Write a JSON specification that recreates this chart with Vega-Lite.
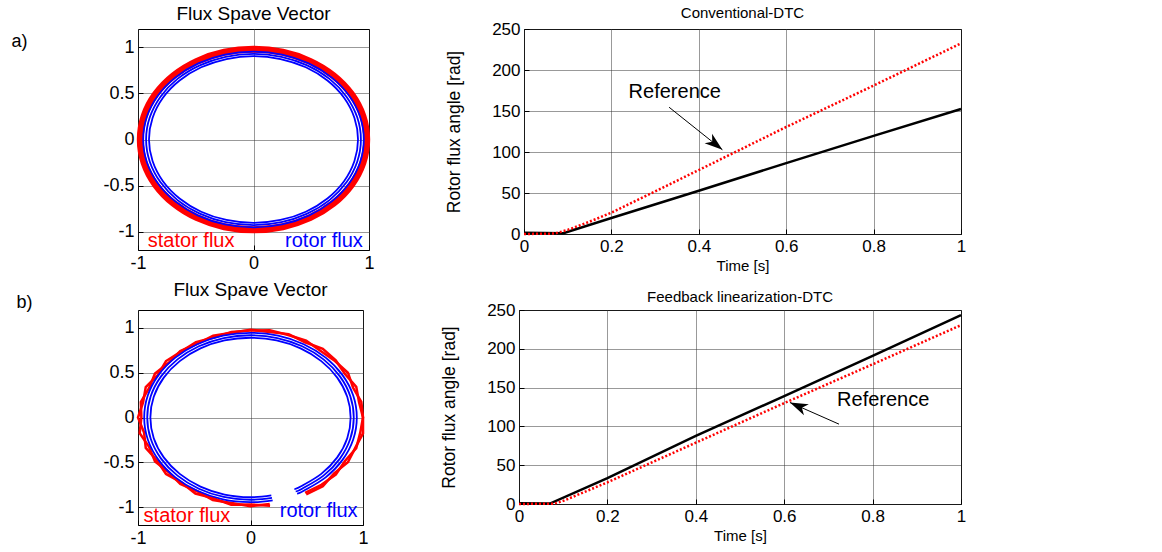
{
"$schema": "https://vega.github.io/schema/vega-lite/v6.json",
"padding": {"left": 10, "top": 4, "right": 4, "bottom": 0},
"background": "white",
"config": {
 "font": "Liberation Sans",
 "view": {"stroke": "black", "strokeWidth": 1},
 "title": {"fontWeight": "normal", "color": "black", "offset": 5, "font": "Liberation Sans"},
 "axis": {"domain": false, "labelColor": "black", "titleColor": "black", "titleFontWeight": "normal", "tickColor": "black", "tickSize": -5, "labelPadding": 9, "gridColor": "#333", "gridDash": [1, 1], "gridWidth": 1, "labelFont": "Liberation Sans", "titleFont": "Liberation Sans", "labelFlush": false, "labelOverlap": false}
},
"datasets": {
 "flux": [
  {"p":"a","g":"as","s":"stator","o":0,"x":0.98,"y":0},
  {"p":"a","g":"as","s":"stator","o":1,"x":0.947,"y":0.254},
  {"p":"a","g":"as","s":"stator","o":2,"x":0.849,"y":0.49},
  {"p":"a","g":"as","s":"stator","o":3,"x":0.693,"y":0.693},
  {"p":"a","g":"as","s":"stator","o":4,"x":0.49,"y":0.849},
  {"p":"a","g":"as","s":"stator","o":5,"x":0.254,"y":0.947},
  {"p":"a","g":"as","s":"stator","o":6,"x":0,"y":0.98},
  {"p":"a","g":"as","s":"stator","o":7,"x":-0.254,"y":0.947},
  {"p":"a","g":"as","s":"stator","o":8,"x":-0.49,"y":0.849},
  {"p":"a","g":"as","s":"stator","o":9,"x":-0.693,"y":0.693},
  {"p":"a","g":"as","s":"stator","o":10,"x":-0.849,"y":0.49},
  {"p":"a","g":"as","s":"stator","o":11,"x":-0.947,"y":0.254},
  {"p":"a","g":"as","s":"stator","o":12,"x":-0.98,"y":0},
  {"p":"a","g":"as","s":"stator","o":13,"x":-0.947,"y":-0.254},
  {"p":"a","g":"as","s":"stator","o":14,"x":-0.849,"y":-0.49},
  {"p":"a","g":"as","s":"stator","o":15,"x":-0.693,"y":-0.693},
  {"p":"a","g":"as","s":"stator","o":16,"x":-0.49,"y":-0.849},
  {"p":"a","g":"as","s":"stator","o":17,"x":-0.254,"y":-0.947},
  {"p":"a","g":"as","s":"stator","o":18,"x":0,"y":-0.98},
  {"p":"a","g":"as","s":"stator","o":19,"x":0.254,"y":-0.947},
  {"p":"a","g":"as","s":"stator","o":20,"x":0.49,"y":-0.849},
  {"p":"a","g":"as","s":"stator","o":21,"x":0.693,"y":-0.693},
  {"p":"a","g":"as","s":"stator","o":22,"x":0.849,"y":-0.49},
  {"p":"a","g":"as","s":"stator","o":23,"x":0.947,"y":-0.254},

  {"p":"a","g":"ar1","s":"rotor","o":0,"x":0.955,"y":0},
  {"p":"a","g":"ar1","s":"rotor","o":1,"x":0.923,"y":0.247},
  {"p":"a","g":"ar1","s":"rotor","o":2,"x":0.827,"y":0.478},
  {"p":"a","g":"ar1","s":"rotor","o":3,"x":0.675,"y":0.675},
  {"p":"a","g":"ar1","s":"rotor","o":4,"x":0.478,"y":0.827},
  {"p":"a","g":"ar1","s":"rotor","o":5,"x":0.247,"y":0.923},
  {"p":"a","g":"ar1","s":"rotor","o":6,"x":0,"y":0.955},
  {"p":"a","g":"ar1","s":"rotor","o":7,"x":-0.247,"y":0.923},
  {"p":"a","g":"ar1","s":"rotor","o":8,"x":-0.478,"y":0.827},
  {"p":"a","g":"ar1","s":"rotor","o":9,"x":-0.675,"y":0.675},
  {"p":"a","g":"ar1","s":"rotor","o":10,"x":-0.827,"y":0.478},
  {"p":"a","g":"ar1","s":"rotor","o":11,"x":-0.923,"y":0.247},
  {"p":"a","g":"ar1","s":"rotor","o":12,"x":-0.955,"y":0},
  {"p":"a","g":"ar1","s":"rotor","o":13,"x":-0.923,"y":-0.247},
  {"p":"a","g":"ar1","s":"rotor","o":14,"x":-0.827,"y":-0.478},
  {"p":"a","g":"ar1","s":"rotor","o":15,"x":-0.675,"y":-0.675},
  {"p":"a","g":"ar1","s":"rotor","o":16,"x":-0.478,"y":-0.827},
  {"p":"a","g":"ar1","s":"rotor","o":17,"x":-0.247,"y":-0.923},
  {"p":"a","g":"ar1","s":"rotor","o":18,"x":0,"y":-0.955},
  {"p":"a","g":"ar1","s":"rotor","o":19,"x":0.247,"y":-0.923},
  {"p":"a","g":"ar1","s":"rotor","o":20,"x":0.478,"y":-0.827},
  {"p":"a","g":"ar1","s":"rotor","o":21,"x":0.675,"y":-0.675},
  {"p":"a","g":"ar1","s":"rotor","o":22,"x":0.827,"y":-0.478},
  {"p":"a","g":"ar1","s":"rotor","o":23,"x":0.923,"y":-0.247},

  {"p":"a","g":"ar2","s":"rotor","o":0,"x":0.93,"y":0},
  {"p":"a","g":"ar2","s":"rotor","o":1,"x":0.898,"y":0.241},
  {"p":"a","g":"ar2","s":"rotor","o":2,"x":0.805,"y":0.465},
  {"p":"a","g":"ar2","s":"rotor","o":3,"x":0.658,"y":0.658},
  {"p":"a","g":"ar2","s":"rotor","o":4,"x":0.465,"y":0.805},
  {"p":"a","g":"ar2","s":"rotor","o":5,"x":0.241,"y":0.898},
  {"p":"a","g":"ar2","s":"rotor","o":6,"x":0,"y":0.93},
  {"p":"a","g":"ar2","s":"rotor","o":7,"x":-0.241,"y":0.898},
  {"p":"a","g":"ar2","s":"rotor","o":8,"x":-0.465,"y":0.805},
  {"p":"a","g":"ar2","s":"rotor","o":9,"x":-0.658,"y":0.658},
  {"p":"a","g":"ar2","s":"rotor","o":10,"x":-0.805,"y":0.465},
  {"p":"a","g":"ar2","s":"rotor","o":11,"x":-0.898,"y":0.241},
  {"p":"a","g":"ar2","s":"rotor","o":12,"x":-0.93,"y":0},
  {"p":"a","g":"ar2","s":"rotor","o":13,"x":-0.898,"y":-0.241},
  {"p":"a","g":"ar2","s":"rotor","o":14,"x":-0.805,"y":-0.465},
  {"p":"a","g":"ar2","s":"rotor","o":15,"x":-0.658,"y":-0.658},
  {"p":"a","g":"ar2","s":"rotor","o":16,"x":-0.465,"y":-0.805},
  {"p":"a","g":"ar2","s":"rotor","o":17,"x":-0.241,"y":-0.898},
  {"p":"a","g":"ar2","s":"rotor","o":18,"x":0,"y":-0.93},
  {"p":"a","g":"ar2","s":"rotor","o":19,"x":0.241,"y":-0.898},
  {"p":"a","g":"ar2","s":"rotor","o":20,"x":0.465,"y":-0.805},
  {"p":"a","g":"ar2","s":"rotor","o":21,"x":0.658,"y":-0.658},
  {"p":"a","g":"ar2","s":"rotor","o":22,"x":0.805,"y":-0.465},
  {"p":"a","g":"ar2","s":"rotor","o":23,"x":0.898,"y":-0.241},

  {"p":"a","g":"ar3","s":"rotor","o":0,"x":0.905,"y":0},
  {"p":"a","g":"ar3","s":"rotor","o":1,"x":0.874,"y":0.234},
  {"p":"a","g":"ar3","s":"rotor","o":2,"x":0.784,"y":0.453},
  {"p":"a","g":"ar3","s":"rotor","o":3,"x":0.64,"y":0.64},
  {"p":"a","g":"ar3","s":"rotor","o":4,"x":0.453,"y":0.784},
  {"p":"a","g":"ar3","s":"rotor","o":5,"x":0.234,"y":0.874},
  {"p":"a","g":"ar3","s":"rotor","o":6,"x":0,"y":0.905},
  {"p":"a","g":"ar3","s":"rotor","o":7,"x":-0.234,"y":0.874},
  {"p":"a","g":"ar3","s":"rotor","o":8,"x":-0.453,"y":0.784},
  {"p":"a","g":"ar3","s":"rotor","o":9,"x":-0.64,"y":0.64},
  {"p":"a","g":"ar3","s":"rotor","o":10,"x":-0.784,"y":0.453},
  {"p":"a","g":"ar3","s":"rotor","o":11,"x":-0.874,"y":0.234},
  {"p":"a","g":"ar3","s":"rotor","o":12,"x":-0.905,"y":0},
  {"p":"a","g":"ar3","s":"rotor","o":13,"x":-0.874,"y":-0.234},
  {"p":"a","g":"ar3","s":"rotor","o":14,"x":-0.784,"y":-0.453},
  {"p":"a","g":"ar3","s":"rotor","o":15,"x":-0.64,"y":-0.64},
  {"p":"a","g":"ar3","s":"rotor","o":16,"x":-0.453,"y":-0.784},
  {"p":"a","g":"ar3","s":"rotor","o":17,"x":-0.234,"y":-0.874},
  {"p":"a","g":"ar3","s":"rotor","o":18,"x":0,"y":-0.905},
  {"p":"a","g":"ar3","s":"rotor","o":19,"x":0.234,"y":-0.874},
  {"p":"a","g":"ar3","s":"rotor","o":20,"x":0.453,"y":-0.784},
  {"p":"a","g":"ar3","s":"rotor","o":21,"x":0.64,"y":-0.64},
  {"p":"a","g":"ar3","s":"rotor","o":22,"x":0.784,"y":-0.453},
  {"p":"a","g":"ar3","s":"rotor","o":23,"x":0.874,"y":-0.234},

  {"p":"b","g":"bs1","s":"stator","o":0,"x":0.495,"y":-0.857},
  {"p":"b","g":"bs1","s":"stator","o":1,"x":0.643,"y":-0.766},
  {"p":"b","g":"bs1","s":"stator","o":2,"x":0.743,"y":-0.624},
  {"p":"b","g":"bs1","s":"stator","o":3,"x":0.866,"y":-0.5},
  {"p":"b","g":"bs1","s":"stator","o":4,"x":0.931,"y":-0.339},
  {"p":"b","g":"bs1","s":"stator","o":5,"x":1.0,"y":-0.177},
  {"p":"b","g":"bs1","s":"stator","o":6,"x":1.0,"y":0},
  {"p":"b","g":"bs1","s":"stator","o":7,"x":0.965,"y":0.171},
  {"p":"b","g":"bs1","s":"stator","o":8,"x":0.94,"y":0.342},
  {"p":"b","g":"bs1","s":"stator","o":9,"x":0.84,"y":0.485},
  {"p":"b","g":"bs1","s":"stator","o":10,"x":0.758,"y":0.637},
  {"p":"b","g":"bs1","s":"stator","o":11,"x":0.643,"y":0.766},
  {"p":"b","g":"bs1","s":"stator","o":12,"x":0.485,"y":0.84},
  {"p":"b","g":"bs1","s":"stator","o":13,"x":0.339,"y":0.931},
  {"p":"b","g":"bs1","s":"stator","o":14,"x":0.169,"y":0.955},
  {"p":"b","g":"bs1","s":"stator","o":15,"x":0,"y":0.98},
  {"p":"b","g":"bs1","s":"stator","o":16,"x":-0.167,"y":0.946},
  {"p":"b","g":"bs1","s":"stator","o":17,"x":-0.332,"y":0.912},
  {"p":"b","g":"bs1","s":"stator","o":18,"x":-0.475,"y":0.823},
  {"p":"b","g":"bs1","s":"stator","o":19,"x":-0.624,"y":0.743},
  {"p":"b","g":"bs1","s":"stator","o":20,"x":-0.728,"y":0.611},
  {"p":"b","g":"bs1","s":"stator","o":21,"x":-0.849,"y":0.49},
  {"p":"b","g":"bs1","s":"stator","o":22,"x":-0.902,"y":0.328},
  {"p":"b","g":"bs1","s":"stator","o":23,"x":-0.975,"y":0.172},
  {"p":"b","g":"bs1","s":"stator","o":24,"x":-0.97,"y":0},
  {"p":"b","g":"bs1","s":"stator","o":25,"x":-0.985,"y":-0.174},
  {"p":"b","g":"bs1","s":"stator","o":26,"x":-0.902,"y":-0.328},
  {"p":"b","g":"bs1","s":"stator","o":27,"x":-0.849,"y":-0.49},
  {"p":"b","g":"bs1","s":"stator","o":28,"x":-0.728,"y":-0.611},
  {"p":"b","g":"bs1","s":"stator","o":29,"x":-0.624,"y":-0.743},
  {"p":"b","g":"bs1","s":"stator","o":30,"x":-0.475,"y":-0.823},
  {"p":"b","g":"bs1","s":"stator","o":31,"x":-0.335,"y":-0.921},
  {"p":"b","g":"bs1","s":"stator","o":32,"x":-0.169,"y":-0.955},
  {"p":"b","g":"bs1","s":"stator","o":33,"x":0,"y":-0.99},
  {"p":"b","g":"bs1","s":"stator","o":34,"x":0.171,"y":-0.965},

  {"p":"b","g":"bs2","s":"stator","o":0,"x":0.485,"y":-0.84},
  {"p":"b","g":"bs2","s":"stator","o":1,"x":0.63,"y":-0.751},
  {"p":"b","g":"bs2","s":"stator","o":2,"x":0.758,"y":-0.637},
  {"p":"b","g":"bs2","s":"stator","o":3,"x":0.84,"y":-0.485},
  {"p":"b","g":"bs2","s":"stator","o":4,"x":0.94,"y":-0.342},
  {"p":"b","g":"bs2","s":"stator","o":5,"x":0.975,"y":-0.172},
  {"p":"b","g":"bs2","s":"stator","o":6,"x":1.0,"y":0},
  {"p":"b","g":"bs2","s":"stator","o":7,"x":0.985,"y":0.174},
  {"p":"b","g":"bs2","s":"stator","o":8,"x":0.912,"y":0.332},
  {"p":"b","g":"bs2","s":"stator","o":9,"x":0.866,"y":0.5},
  {"p":"b","g":"bs2","s":"stator","o":10,"x":0.751,"y":0.63},
  {"p":"b","g":"bs2","s":"stator","o":11,"x":0.624,"y":0.743},
  {"p":"b","g":"bs2","s":"stator","o":12,"x":0.495,"y":0.857},
  {"p":"b","g":"bs2","s":"stator","o":13,"x":0.335,"y":0.921},
  {"p":"b","g":"bs2","s":"stator","o":14,"x":0.172,"y":0.975},
  {"p":"b","g":"bs2","s":"stator","o":15,"x":0,"y":0.97},
  {"p":"b","g":"bs2","s":"stator","o":16,"x":-0.169,"y":0.955},
  {"p":"b","g":"bs2","s":"stator","o":17,"x":-0.325,"y":0.893},
  {"p":"b","g":"bs2","s":"stator","o":18,"x":-0.485,"y":0.84},
  {"p":"b","g":"bs2","s":"stator","o":19,"x":-0.617,"y":0.735},
  {"p":"b","g":"bs2","s":"stator","o":20,"x":-0.751,"y":0.63},
  {"p":"b","g":"bs2","s":"stator","o":21,"x":-0.823,"y":0.475},
  {"p":"b","g":"bs2","s":"stator","o":22,"x":-0.931,"y":0.339},
  {"p":"b","g":"bs2","s":"stator","o":23,"x":-0.955,"y":0.169},
  {"p":"b","g":"bs2","s":"stator","o":24,"x":-1.0,"y":0},
  {"p":"b","g":"bs2","s":"stator","o":25,"x":-0.946,"y":-0.167},
  {"p":"b","g":"bs2","s":"stator","o":26,"x":-0.931,"y":-0.339},
  {"p":"b","g":"bs2","s":"stator","o":27,"x":-0.831,"y":-0.48},
  {"p":"b","g":"bs2","s":"stator","o":28,"x":-0.751,"y":-0.63},
  {"p":"b","g":"bs2","s":"stator","o":29,"x":-0.611,"y":-0.728},
  {"p":"b","g":"bs2","s":"stator","o":30,"x":-0.49,"y":-0.849},
  {"p":"b","g":"bs2","s":"stator","o":31,"x":-0.328,"y":-0.902},
  {"p":"b","g":"bs2","s":"stator","o":32,"x":-0.172,"y":-0.975},
  {"p":"b","g":"bs2","s":"stator","o":33,"x":0,"y":-0.97},
  {"p":"b","g":"bs2","s":"stator","o":34,"x":0.174,"y":-0.985},

  {"p":"b","g":"br1","s":"rotor","o":0,"x":0.414,"y":-0.85},
  {"p":"b","g":"br1","s":"rotor","o":1,"x":0.473,"y":-0.818},
  {"p":"b","g":"br1","s":"rotor","o":2,"x":0.668,"y":-0.668},
  {"p":"b","g":"br1","s":"rotor","o":3,"x":0.818,"y":-0.473},
  {"p":"b","g":"br1","s":"rotor","o":4,"x":0.913,"y":-0.245},
  {"p":"b","g":"br1","s":"rotor","o":5,"x":0.945,"y":0},
  {"p":"b","g":"br1","s":"rotor","o":6,"x":0.913,"y":0.245},
  {"p":"b","g":"br1","s":"rotor","o":7,"x":0.818,"y":0.473},
  {"p":"b","g":"br1","s":"rotor","o":8,"x":0.668,"y":0.668},
  {"p":"b","g":"br1","s":"rotor","o":9,"x":0.473,"y":0.818},
  {"p":"b","g":"br1","s":"rotor","o":10,"x":0.245,"y":0.913},
  {"p":"b","g":"br1","s":"rotor","o":11,"x":0,"y":0.945},
  {"p":"b","g":"br1","s":"rotor","o":12,"x":-0.245,"y":0.913},
  {"p":"b","g":"br1","s":"rotor","o":13,"x":-0.473,"y":0.818},
  {"p":"b","g":"br1","s":"rotor","o":14,"x":-0.668,"y":0.668},
  {"p":"b","g":"br1","s":"rotor","o":15,"x":-0.818,"y":0.473},
  {"p":"b","g":"br1","s":"rotor","o":16,"x":-0.913,"y":0.245},
  {"p":"b","g":"br1","s":"rotor","o":17,"x":-0.945,"y":0},
  {"p":"b","g":"br1","s":"rotor","o":18,"x":-0.913,"y":-0.245},
  {"p":"b","g":"br1","s":"rotor","o":19,"x":-0.818,"y":-0.473},
  {"p":"b","g":"br1","s":"rotor","o":20,"x":-0.668,"y":-0.668},
  {"p":"b","g":"br1","s":"rotor","o":21,"x":-0.473,"y":-0.818},
  {"p":"b","g":"br1","s":"rotor","o":22,"x":-0.245,"y":-0.913},
  {"p":"b","g":"br1","s":"rotor","o":23,"x":0,"y":-0.945},
  {"p":"b","g":"br1","s":"rotor","o":24,"x":0.197,"y":-0.924},

  {"p":"b","g":"br2","s":"rotor","o":0,"x":0.402,"y":-0.825},
  {"p":"b","g":"br2","s":"rotor","o":1,"x":0.459,"y":-0.795},
  {"p":"b","g":"br2","s":"rotor","o":2,"x":0.649,"y":-0.649},
  {"p":"b","g":"br2","s":"rotor","o":3,"x":0.795,"y":-0.459},
  {"p":"b","g":"br2","s":"rotor","o":4,"x":0.887,"y":-0.238},
  {"p":"b","g":"br2","s":"rotor","o":5,"x":0.918,"y":0},
  {"p":"b","g":"br2","s":"rotor","o":6,"x":0.887,"y":0.238},
  {"p":"b","g":"br2","s":"rotor","o":7,"x":0.795,"y":0.459},
  {"p":"b","g":"br2","s":"rotor","o":8,"x":0.649,"y":0.649},
  {"p":"b","g":"br2","s":"rotor","o":9,"x":0.459,"y":0.795},
  {"p":"b","g":"br2","s":"rotor","o":10,"x":0.238,"y":0.887},
  {"p":"b","g":"br2","s":"rotor","o":11,"x":0,"y":0.918},
  {"p":"b","g":"br2","s":"rotor","o":12,"x":-0.238,"y":0.887},
  {"p":"b","g":"br2","s":"rotor","o":13,"x":-0.459,"y":0.795},
  {"p":"b","g":"br2","s":"rotor","o":14,"x":-0.649,"y":0.649},
  {"p":"b","g":"br2","s":"rotor","o":15,"x":-0.795,"y":0.459},
  {"p":"b","g":"br2","s":"rotor","o":16,"x":-0.887,"y":0.238},
  {"p":"b","g":"br2","s":"rotor","o":17,"x":-0.918,"y":0},
  {"p":"b","g":"br2","s":"rotor","o":18,"x":-0.887,"y":-0.238},
  {"p":"b","g":"br2","s":"rotor","o":19,"x":-0.795,"y":-0.459},
  {"p":"b","g":"br2","s":"rotor","o":20,"x":-0.649,"y":-0.649},
  {"p":"b","g":"br2","s":"rotor","o":21,"x":-0.459,"y":-0.795},
  {"p":"b","g":"br2","s":"rotor","o":22,"x":-0.238,"y":-0.887},
  {"p":"b","g":"br2","s":"rotor","o":23,"x":0,"y":-0.918},
  {"p":"b","g":"br2","s":"rotor","o":24,"x":0.191,"y":-0.898},

  {"p":"b","g":"br3","s":"rotor","o":0,"x":0.39,"y":-0.8},
  {"p":"b","g":"br3","s":"rotor","o":1,"x":0.445,"y":-0.771},
  {"p":"b","g":"br3","s":"rotor","o":2,"x":0.629,"y":-0.629},
  {"p":"b","g":"br3","s":"rotor","o":3,"x":0.771,"y":-0.445},
  {"p":"b","g":"br3","s":"rotor","o":4,"x":0.86,"y":-0.231},
  {"p":"b","g":"br3","s":"rotor","o":5,"x":0.89,"y":0},
  {"p":"b","g":"br3","s":"rotor","o":6,"x":0.86,"y":0.231},
  {"p":"b","g":"br3","s":"rotor","o":7,"x":0.771,"y":0.445},
  {"p":"b","g":"br3","s":"rotor","o":8,"x":0.629,"y":0.629},
  {"p":"b","g":"br3","s":"rotor","o":9,"x":0.445,"y":0.771},
  {"p":"b","g":"br3","s":"rotor","o":10,"x":0.231,"y":0.86},
  {"p":"b","g":"br3","s":"rotor","o":11,"x":0,"y":0.89},
  {"p":"b","g":"br3","s":"rotor","o":12,"x":-0.231,"y":0.86},
  {"p":"b","g":"br3","s":"rotor","o":13,"x":-0.445,"y":0.771},
  {"p":"b","g":"br3","s":"rotor","o":14,"x":-0.629,"y":0.629},
  {"p":"b","g":"br3","s":"rotor","o":15,"x":-0.771,"y":0.445},
  {"p":"b","g":"br3","s":"rotor","o":16,"x":-0.86,"y":0.231},
  {"p":"b","g":"br3","s":"rotor","o":17,"x":-0.89,"y":0},
  {"p":"b","g":"br3","s":"rotor","o":18,"x":-0.86,"y":-0.231},
  {"p":"b","g":"br3","s":"rotor","o":19,"x":-0.771,"y":-0.445},
  {"p":"b","g":"br3","s":"rotor","o":20,"x":-0.629,"y":-0.629},
  {"p":"b","g":"br3","s":"rotor","o":21,"x":-0.445,"y":-0.771},
  {"p":"b","g":"br3","s":"rotor","o":22,"x":-0.231,"y":-0.86},
  {"p":"b","g":"br3","s":"rotor","o":23,"x":0,"y":-0.89},
  {"p":"b","g":"br3","s":"rotor","o":24,"x":0.185,"y":-0.87}
 ],
 "flabels": [
  {"p":"a","s":"stator","txt":"stator flux","x":-0.54,"y":-1.107},
  {"p":"a","s":"rotor","txt":"rotor flux","x":0.61,"y":-1.107},
  {"p":"b","s":"stator","txt":"stator flux","x":-0.565,"y":-1.1},
  {"p":"b","s":"rotor","txt":"rotor flux","x":0.606,"y":-1.04}
 ],
 "ang": [
  {"p":"a","s":"actual","x":0,"y":1.5},
  {"p":"a","s":"actual","x":0.09,"y":1},
  {"p":"a","s":"actual","x":0.2,"y":19.5},
  {"p":"a","s":"actual","x":0.4,"y":52.8},
  {"p":"a","s":"actual","x":0.6,"y":86.4},
  {"p":"a","s":"actual","x":0.8,"y":119.7},
  {"p":"a","s":"actual","x":1,"y":152.5},
  {"p":"a","s":"ref","x":0,"y":0},
  {"p":"a","s":"ref","x":0.07,"y":0.5},
  {"p":"a","s":"ref","x":0.1,"y":5},
  {"p":"a","s":"ref","x":0.15,"y":15},
  {"p":"a","s":"ref","x":0.2,"y":26},
  {"p":"a","s":"ref","x":0.4,"y":78},
  {"p":"a","s":"ref","x":0.6,"y":130.5},
  {"p":"a","s":"ref","x":0.8,"y":181},
  {"p":"a","s":"ref","x":1,"y":232.5},
  {"p":"b","s":"actual","x":0,"y":1},
  {"p":"b","s":"actual","x":0.07,"y":0.5},
  {"p":"b","s":"actual","x":0.2,"y":33.4},
  {"p":"b","s":"actual","x":0.4,"y":87.9},
  {"p":"b","s":"actual","x":0.6,"y":139},
  {"p":"b","s":"actual","x":0.8,"y":190.8},
  {"p":"b","s":"actual","x":1,"y":243.5},
  {"p":"b","s":"ref","x":0,"y":0},
  {"p":"b","s":"ref","x":0.08,"y":0.5},
  {"p":"b","s":"ref","x":0.1,"y":4},
  {"p":"b","s":"ref","x":0.2,"y":27.9},
  {"p":"b","s":"ref","x":0.4,"y":79},
  {"p":"b","s":"ref","x":0.6,"y":130},
  {"p":"b","s":"ref","x":0.8,"y":180},
  {"p":"b","s":"ref","x":1,"y":230.5}
 ],
 "arrows": [
  {"p":"a","x":0.454,"y":102.7,"x2":0.332,"y2":154.6},
  {"p":"b","x":0.613,"y":130.8,"x2":0.724,"y2":102.9}
 ],
 "labels": [
  {"p":"a","txt":"Reference","x":0.345,"y":173},
  {"p":"b","txt":"Reference","x":0.824,"y":134}
 ]
},
"vconcat": [
 {
  "hconcat": [
   {
    "width": 231, "height": 221,
    "title": {"text": "Flux Spave Vector", "fontSize": 19},
    "encoding": {
     "x": {"field": "x", "type": "quantitative", "scale": {"domain": [-1, 1], "nice": false, "zero": false}, "axis": {"values": [-1, 0, 1], "title": null, "labelFontSize": 18, "labelExpr": "'' + datum.value"}},
     "y": {"field": "y", "type": "quantitative", "scale": {"domain": [-1.2, 1.2], "nice": false, "zero": false}, "axis": {"values": [-1, -0.5, 0, 0.5, 1], "labelFontSize": 18, "labelExpr": "'' + datum.value", "title": "a)", "titleAngle": 0, "titleX": -127, "titleY": 12, "titleAlign": "left", "titleBaseline": "middle", "titleFontSize": 18}},
     "color": {"field": "s", "type": "nominal", "scale": {"domain": ["stator", "rotor"], "range": ["#ff0000", "#0000ff"]}, "legend": null}
    },
    "layer": [
     {"data": {"name": "flux"}, "transform": [{"filter": "datum.g == 'as'"}], "mark": {"type": "line", "interpolate": "cardinal-closed", "strokeWidth": 7}, "encoding": {"detail": {"field": "g"}, "order": {"field": "o", "type": "quantitative"}}},
     {"data": {"name": "flux"}, "transform": [{"filter": "datum.p == 'a' && datum.s == 'rotor'"}], "mark": {"type": "line", "interpolate": "cardinal-closed", "strokeWidth": 1.8}, "encoding": {"detail": {"field": "g"}, "order": {"field": "o", "type": "quantitative"}}},
     {"data": {"name": "flabels"}, "transform": [{"filter": "datum.p == 'a'"}], "mark": {"type": "text", "fontSize": 20}, "encoding": {"text": {"field": "txt"}}}
    ]
   },
   {
    "width": 437, "height": 205,
    "title": {"text": "Conventional-DTC", "fontSize": 15, "offset": -1},
    "encoding": {
     "x": {"field": "x", "type": "quantitative", "scale": {"domain": [0, 1], "nice": false, "zero": false}, "axis": {"values": [0, 0.2, 0.4, 0.6, 0.8, 1], "title": "Time [s]", "titleFontSize": 15, "titlePadding": 4, "labelFontSize": 17, "labelExpr": "'' + datum.value"}},
     "y": {"field": "y", "type": "quantitative", "scale": {"domain": [0, 250], "nice": false, "zero": false}, "axis": {"values": [0, 50, 100, 150, 200, 250], "title": "Rotor flux angle [rad]", "titleFontSize": 17.5, "titlePadding": 28, "labelFontSize": 17}}
    },
    "layer": [
     {"data": {"name": "ang"}, "transform": [{"filter": "datum.p == 'a' && datum.s == 'actual'"}], "mark": {"type": "line", "color": "black", "strokeWidth": 2.5}},
     {"data": {"name": "ang"}, "transform": [{"filter": "datum.p == 'a' && datum.s == 'ref'"}], "mark": {"type": "line", "color": "#ff0000", "strokeWidth": 2.5, "strokeDash": [2, 2]}},
     {"data": {"name": "arrows"}, "transform": [{"filter": "datum.p == 'a'"}], "mark": {"type": "rule", "color": "black", "strokeWidth": 1}, "encoding": {"x2": {"field": "x2"}, "y2": {"field": "y2"}}},
     {"data": {"name": "arrows"}, "transform": [{"filter": "datum.p == 'a'"}], "mark": {"type": "point", "shape": "M0,0L0.6,1.8L0,1.3L-0.6,1.8Z", "filled": true, "color": "black", "opacity": 1, "size": 400, "angle": 128.6}},
     {"data": {"name": "labels"}, "transform": [{"filter": "datum.p == 'a'"}], "mark": {"type": "text", "fontSize": 20, "color": "black"}, "encoding": {"text": {"field": "txt"}}}
    ]
   }
  ],
  "spacing": 63
 },
 {
  "hconcat": [
   {
    "width": 225, "height": 215,
    "title": {"text": "Flux Spave Vector", "fontSize": 19, "offset": -7},
    "encoding": {
     "x": {"field": "x", "type": "quantitative", "scale": {"domain": [-1, 1], "nice": false, "zero": false}, "axis": {"values": [-1, 0, 1], "title": null, "labelFontSize": 18, "labelExpr": "'' + datum.value"}},
     "y": {"field": "y", "type": "quantitative", "scale": {"domain": [-1.2, 1.2], "nice": false, "zero": false}, "axis": {"values": [-1, -0.5, 0, 0.5, 1], "labelFontSize": 18, "labelExpr": "'' + datum.value", "title": "b)", "titleAngle": 0, "titleX": -122, "titleY": -8, "titleAlign": "left", "titleBaseline": "middle", "titleFontSize": 18}},
     "color": {"field": "s", "type": "nominal", "scale": {"domain": ["stator", "rotor"], "range": ["#ff0000", "#0000ff"]}, "legend": null}
    },
    "layer": [
     {"data": {"name": "flux"}, "transform": [{"filter": "datum.p == 'b' && datum.s == 'stator'"}], "mark": {"type": "line", "interpolate": "linear", "strokeWidth": 2.5}, "encoding": {"detail": {"field": "g"}, "order": {"field": "o", "type": "quantitative"}}},
     {"data": {"name": "flux"}, "transform": [{"filter": "datum.p == 'b' && datum.s == 'rotor'"}], "mark": {"type": "line", "interpolate": "cardinal", "strokeWidth": 1.8}, "encoding": {"detail": {"field": "g"}, "order": {"field": "o", "type": "quantitative"}}},
     {"data": {"name": "flabels"}, "transform": [{"filter": "datum.p == 'b'"}], "mark": {"type": "text", "fontSize": 20}, "encoding": {"text": {"field": "txt"}}}
    ]
   },
   {
    "width": 442, "height": 194,
    "title": {"text": "Feedback linearization-DTC", "fontSize": 15, "offset": -4},
    "encoding": {
     "x": {"field": "x", "type": "quantitative", "scale": {"domain": [0, 1], "nice": false, "zero": false}, "axis": {"values": [0, 0.2, 0.4, 0.6, 0.8, 1], "title": "Time [s]", "titleFontSize": 15, "titlePadding": 4, "labelFontSize": 17, "labelExpr": "'' + datum.value"}},
     "y": {"field": "y", "type": "quantitative", "scale": {"domain": [0, 250], "nice": false, "zero": false}, "axis": {"values": [0, 50, 100, 150, 200, 250], "title": "Rotor flux angle [rad]", "titleFontSize": 17.5, "titlePadding": 28, "labelFontSize": 17}}
    },
    "layer": [
     {"data": {"name": "ang"}, "transform": [{"filter": "datum.p == 'b' && datum.s == 'actual'"}], "mark": {"type": "line", "color": "black", "strokeWidth": 2.5}},
     {"data": {"name": "ang"}, "transform": [{"filter": "datum.p == 'b' && datum.s == 'ref'"}], "mark": {"type": "line", "color": "#ff0000", "strokeWidth": 2.5, "strokeDash": [2, 2]}},
     {"data": {"name": "arrows"}, "transform": [{"filter": "datum.p == 'b'"}], "mark": {"type": "rule", "color": "black", "strokeWidth": 1}, "encoding": {"x2": {"field": "x2"}, "y2": {"field": "y2"}}},
     {"data": {"name": "arrows"}, "transform": [{"filter": "datum.p == 'b'"}], "mark": {"type": "point", "shape": "M0,0L0.6,1.8L0,1.3L-0.6,1.8Z", "filled": true, "color": "black", "opacity": 1, "size": 400, "angle": 293.9}},
     {"data": {"name": "labels"}, "transform": [{"filter": "datum.p == 'b'"}], "mark": {"type": "text", "fontSize": 20, "color": "black"}, "encoding": {"text": {"field": "txt"}}}
    ]
   }
  ],
  "spacing": 71
 }
],
"spacing": 6
}
